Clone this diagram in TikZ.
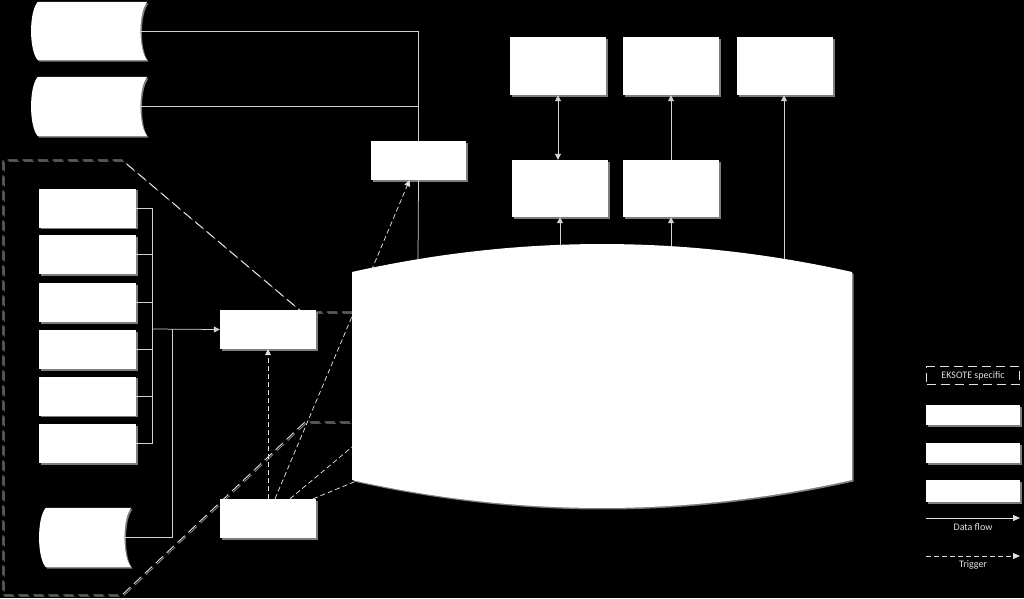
\documentclass[tikz,border=0pt]{standalone}
\usepackage{fontspec}
\setmainfont{Carlito}
\usetikzlibrary{arrows.meta,shadows}
\definecolor{lgray}{RGB}{210,210,210}
\definecolor{sgray}{RGB}{125,125,125}
\definecolor{dgray}{RGB}{225,225,225}
\newcommand\drumfill[1]{%
  \fill[white,shape shadow] (#1.north west)
    .. controls ([xshift=-9pt,yshift=-10pt]#1.north west) and ([xshift=-9pt,yshift=10pt]#1.south west) .. (#1.south west)
    -- (#1.south east)
    .. controls ([xshift=-9pt,yshift=10pt]#1.south east) and ([xshift=-9pt,yshift=-10pt]#1.north east) .. (#1.north east)
    -- cycle;}
\begin{document}
\begin{tikzpicture}[x=1pt,y=-1pt,
  shape shadow/.style={drop shadow={shadow xshift=1.5pt,shadow yshift=-1.5pt,fill=sgray,opacity=1}},
  wbox/.style={rectangle,fill=white,inner sep=0pt,shape shadow},
  topbox/.style={wbox,minimum width=96pt,minimum height=58pt},
  srcbox/.style={wbox,minimum width=97pt,minimum height=39pt},
  procbox/.style={wbox,minimum width=96pt,minimum height=39pt},
  drum/.style={rectangle,inner sep=0pt,draw=none},
  flow/.style={draw=lgray,line width=0.75pt},
  flowarrow/.style={flow,-{Triangle[length=6pt,width=6pt]}},
  trig/.style={draw=dgray,line width=0.75pt,dash pattern=on 5pt off 3pt},
  trigarrow/.style={trig,-{Triangle[length=6pt,width=6pt]}},
  zoomline/.style={draw=dgray,line width=0.9pt,dash pattern=on 10pt off 5pt,
    preaction={draw=sgray,line width=0.9pt,dash pattern=on 10pt off 5pt,transform canvas={shift={(1.2pt,-1.2pt)}}}},
  legtext/.style={text=dgray,font=\fontsize{10}{12}\selectfont,inner sep=1pt}
]
\fill[black] (0,0) rectangle (1024,598);
\useasboundingbox (0,0) rectangle (1024,598);

% zoom callout region (EKSOTE specific)
\draw[zoomline] (352,312) -- (302,312) -- (122,160) -- (3,160) -- (3,595) -- (122,595) -- (305,422) -- (352,422);

% drums (external sources)
\node[drum,minimum width=109pt,minimum height=58pt] (c1) at (92.5,31) {};
\node[drum,minimum width=109pt,minimum height=59pt] (c2) at (92.5,106.5) {};
\node[drum,minimum width=85pt,minimum height=59pt] (c3) at (88.5,537.5) {};
\drumfill{c1}
\drumfill{c2}
\drumfill{c3}

% source boxes
\node[srcbox] (s1) at (87.5,208) {};
\node[srcbox] (s2) at (87.5,254.5) {};
\node[srcbox] (s3) at (87.5,302.5) {};
\node[srcbox] (s4) at (87.5,349.5) {};
\node[srcbox] (s5) at (87.5,396) {};
\node[srcbox] (s6) at (87.5,443.5) {};

% processing boxes
\node[procbox,minimum width=95pt] (A) at (418.5,160.5) {};
\node[procbox] (B1) at (268,329.5) {};
\node[procbox] (B2) at (268,518.5) {};

% top boxes
\node[topbox] (T1) at (558,66) {};
\node[topbox] (T2) at (671,66) {};
\node[topbox] (T3) at (785,66) {};
\node[topbox,minimum height=57pt] (M1) at (560,188.5) {};
\node[topbox,minimum height=57pt] (M2) at (671,188.5) {};

% core (invisible node) and points on its outline
\node[rectangle,draw=none,minimum width=500pt,minimum height=208pt] (core) at (602,376) {};
\coordinate (ct1) at (418,259);
\coordinate (ct2) at (560,245);
\coordinate (ct3) at (671,246);
\coordinate (ct4) at (784,259);
\coordinate (cl1) at (352,447);
\coordinate (cl2) at (354,482);

% triggers (partly behind the core)
\draw[trigarrow] (B2.north) -- (B1.south);
\draw[trigarrow] ([xshift=7pt]B2.north) -- ([xshift=-9pt]A.south);
\draw[trig] ([xshift=22pt]B2.north) -- (cl1);
\draw[trig] ([xshift=45pt]B2.north) -- (cl2);

% core shape
\fill[white,shape shadow] (352,272) .. controls (518.7,234.7) and (685.3,234.7) .. (852,272)
  -- (852,480) .. controls (685.3,517.3) and (518.7,517.3) .. (352,480) -- cycle;

% data flows
\coordinate (bus) at (152,329);
\foreach \s in {s1,s2,s3,s4,s5,s6} \draw[flow] (\s.east) -- (\s.east -| bus);
\draw[flow] (bus |- s1.east) -- (bus |- s6.east);
\draw[flowarrow] (bus) -- (B1.west);
\draw[flow] ([xshift=-7pt]c3.east) -| (172,329);
\draw[flow] ([xshift=-7pt]c1.east) -| (A.north);
\draw[flow] ([xshift=-7pt]c2.east) -| (A.north);
\draw[flow] (A.south) -- (ct1);
\draw[flowarrow] (ct2) -- (M1.south);
\draw[flowarrow] (ct3) -- (M2.south);
\draw[flowarrow] (ct4) -- (T3.south -| ct4);
\draw[flow,{Triangle[length=6pt,width=6pt]}-{Triangle[length=6pt,width=6pt]}] (M1.north -| T1.south) -- (T1.south);
\draw[flowarrow] (M2.north) -- (T2.south);

% legend
\node[legtext,draw=dgray,line width=0.8pt,dash pattern=on 9pt off 5pt,minimum width=93pt,minimum height=18pt] (leg) at (973,375.5) {EKSOTE specific};
\node[wbox,minimum width=94pt,minimum height=20pt] (L1) at (973,415) {};
\node[wbox,minimum width=94pt,minimum height=20pt] (L2) at (973,453) {};
\node[wbox,minimum width=94pt,minimum height=22pt] (L3) at (973,491) {};
\coordinate (df1) at (926,518);
\coordinate (df2) at (1020,518);
\draw[flowarrow,draw=dgray,-{Triangle[length=7pt,width=6pt]}] (df1) -- (df2);
\node[legtext] (tdf) at (973,527) {Data flow};
\coordinate (tr1) at (926,556);
\coordinate (tr2) at (1020,556);
\draw[trig,-{Triangle[length=7pt,width=6pt]}] (tr1) -- (tr2);
\node[legtext] (ttr) at (973,564.5) {Trigger};
\end{tikzpicture}
\end{document}
